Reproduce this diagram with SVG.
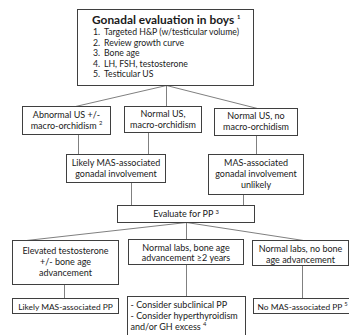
<svg xmlns="http://www.w3.org/2000/svg" width="349" height="335" viewBox="0 0 349 335">
<style>
.box{fill:#fff;stroke:#3f3f3f;stroke-width:1}
.c{fill:none;stroke:#808080;stroke-width:1}
text{font-family:Lato,"Liberation Sans",Arial,sans-serif;font-size:9px;fill:#1a1a1a}
.m{text-anchor:middle}
.t{font-size:11.9px;font-weight:bold}
.l{font-size:8.7px}
.p{font-size:8.4px}
.s{font-size:5.8px}
</style>
<rect width="349" height="335" fill="#fff"/>
<g id="connectors">
<path class="c" d="M166.5 85.5L75.5 106.5M166.5 85.5V106.5M166.5 85.5L257.5 108.5"/>
<path class="c" d="M78.5 134V154.5M148.5 132V154.5M256.5 135V154.5"/>
<path class="c" d="M131.5 182V205.5M243.5 194V205.5"/>
<path class="c" d="M186.5 222.5L26.5 240.5M186.5 222.5V239.5M186.5 222.5L303.5 240.5"/>
<path class="c" d="M64.5 284V298.5M186.5 264V296.5M302.5 265V298.5"/>
</g>
<g id="n_top">
<rect class="box" x="77.5" y="9.5" width="176" height="76"/>
<text class="t" x="92" y="23.5">Gonadal evaluation in boys <tspan class="s" font-size="7" dy="-4.5">1</tspan></text>
<text class="l" x="93" y="35">1.</text><text class="l" x="104" y="35">Targeted H&amp;P (w/testicular volume)</text>
<text class="l" x="93" y="45.5">2.</text><text class="l" x="104" y="45.5">Review growth curve</text>
<text class="l" x="93" y="56">3.</text><text class="l" x="104" y="56">Bone age</text>
<text class="l" x="93" y="66.5">4.</text><text class="l" x="104" y="66.5">LH, FSH, testosterone</text>
<text class="l" x="93" y="77">5.</text><text class="l" x="104" y="77">Testicular US</text>
</g>
<g id="n_abn">
<rect class="box" x="22.5" y="106.5" width="88" height="28"/>
<text class="m" x="66.5" y="118">Abnormal US +/-</text>
<text class="m" x="66.5" y="128.5">macro-orchidism <tspan class="s" dy="-3.5">2</tspan></text>
</g>
<g id="n_nmac">
<rect class="box" x="124.5" y="106.5" width="77" height="26"/>
<text class="m" x="163" y="117">Normal US,</text>
<text class="m" x="163" y="128">macro-orchidism</text>
</g>
<g id="n_nno">
<rect class="box" x="214.5" y="108.5" width="83" height="27"/>
<text class="m" x="256" y="119">Normal US, no</text>
<text class="m" x="256" y="130">macro-orchidism</text>
</g>
<g id="n_likely">
<rect class="box" x="66.5" y="154.5" width="99" height="28"/>
<text class="m" x="116" y="166">Likely MAS-associated</text>
<text class="m" x="116" y="177">gonadal involvement</text>
</g>
<g id="n_unlikely">
<rect class="box" x="208.5" y="154.5" width="95" height="40"/>
<text class="m" x="256" y="165.5">MAS-associated</text>
<text class="m" x="256" y="176.5">gonadal involvement</text>
<text class="m" x="256" y="187.5">unlikely</text>
</g>
<g id="n_eval">
<rect class="box" x="117.5" y="205.5" width="137" height="17"/>
<text class="m" x="186" y="217">Evaluate for PP <tspan class="s" dy="-3.5">3</tspan></text>
</g>
<g id="n_elev">
<rect class="box" x="12.5" y="240.5" width="106" height="44"/>
<text class="m" x="65.5" y="253.5">Elevated testosterone</text>
<text class="m" x="65.5" y="264.5">+/- bone age</text>
<text class="m" x="65.5" y="275.5">advancement</text>
</g>
<g id="n_nlba">
<rect class="box" x="128.5" y="239.5" width="115" height="25"/>
<text class="m" x="186" y="250.5">Normal labs, bone age</text>
<text class="m" x="186" y="261">advancement ≥2 years</text>
</g>
<g id="n_nlno">
<rect class="box" x="252.5" y="240.5" width="96" height="25"/>
<text class="m" x="300.5" y="251.5">Normal labs, no bone</text>
<text class="m" x="300.5" y="262.5">age advancement</text>
</g>
<g id="n_likpp">
<rect class="box" x="12.5" y="298.5" width="106" height="15"/>
<text class="m p" x="65.5" y="309.5">Likely MAS-associated PP</text>
</g>
<g id="n_consider">
<rect class="box" x="127.5" y="296.5" width="118" height="45"/>
<text x="130.5" y="307.5">- Consider subclinical PP</text>
<text x="130.5" y="318.5">- Consider hyperthyroidism</text>
<text x="130.5" y="329.5">and/or GH excess <tspan class="s" dy="-3.5">4</tspan></text>
</g>
<g id="n_nopp">
<rect class="box" x="253.5" y="298.5" width="110" height="15"/>
<text class="p" x="257.5" y="309.5">No MAS-associated PP <tspan class="s" dy="-3.5">5</tspan></text>
</g>
</svg>
